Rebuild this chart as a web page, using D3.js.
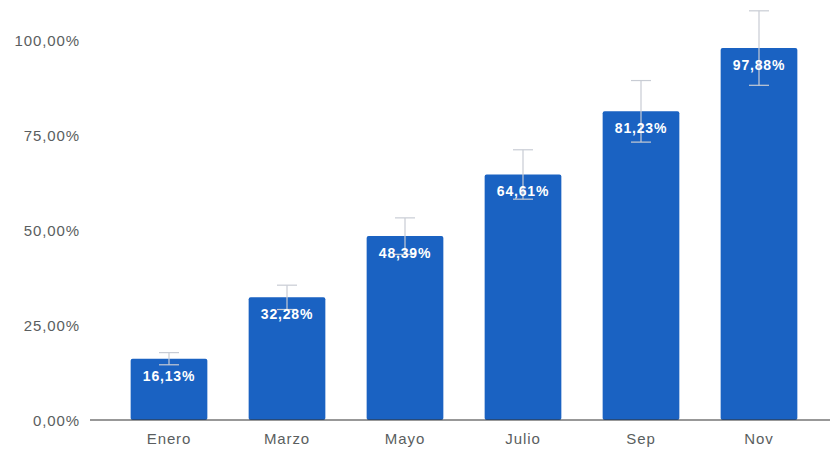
<!DOCTYPE html>
<html><head><meta charset="utf-8">
<script src="https://cdn.jsdelivr.net/npm/d3@7"></script>
<style>body{margin:0;background:#fff}svg{display:block;font-family:"Liberation Sans", Arial, sans-serif}</style>
</head><body><svg id="c" width="830" height="449"></svg>
<script>
const categories = ["Enero","Marzo","Mayo","Julio","Sep","Nov"];
const values = [16.13, 32.28, 48.39, 64.61, 81.23, 97.88];
const errors = [1.6, 3.2, 4.8, 6.5, 8.1, 9.8];
const yTicks = [0, 25, 50, 75, 100];

const svg = d3.select("#c");
const fmt = v => d3.format(".2f")(v).replace(".", ",") + "%";
const x = d3.scaleBand().domain(categories).range([110, 818]).paddingInner(0.35).paddingOuter(0.175);
const y = d3.scaleLinear().domain([0, 100]).range([420, 40]);

const yAxis = svg.append("g").attr("transform", "translate(80,0)")
  .call(d3.axisLeft(y).tickValues(yTicks).tickSize(0).tickPadding(0).tickFormat(fmt));
yAxis.select(".domain").remove();
yAxis.selectAll("text").attr("font-size", 15).attr("letter-spacing", 0.9)
  .attr("fill", "#5a5e60").attr("dy", "0.35em");

svg.selectAll("rect.bar").data(values).join("rect")
  .attr("class", "bar")
  .attr("x", (d, i) => x(categories[i]))
  .attr("width", x.bandwidth())
  .attr("y", d => y(d))
  .attr("height", d => y(0) - y(d))
  .attr("rx", 2)
  .attr("fill", "#1a62c2");

const eb = svg.append("g").attr("stroke", "#c8ccd4").attr("stroke-width", 1.2);
values.forEach((v, i) => {
  const cx = x(categories[i]) + x.bandwidth() / 2;
  eb.append("line").attr("x1", cx).attr("x2", cx).attr("y1", y(v + errors[i])).attr("y2", y(v - errors[i]));
  eb.append("line").attr("x1", cx - 10).attr("x2", cx + 10).attr("y1", y(v + errors[i])).attr("y2", y(v + errors[i]));
  eb.append("line").attr("x1", cx - 10).attr("x2", cx + 10).attr("y1", y(v - errors[i])).attr("y2", y(v - errors[i]));
});

svg.append("line").attr("x1", 90).attr("x2", 830).attr("y1", y(0)).attr("y2", y(0))
  .attr("stroke", "#333").attr("stroke-width", 1.2);

svg.selectAll("text.lbl").data(values).join("text")
  .attr("class", "lbl")
  .attr("x", (d, i) => x(categories[i]) + x.bandwidth() / 2)
  .attr("y", d => y(d) + 22)
  .attr("text-anchor", "middle")
  .attr("font-size", 14).attr("font-weight", "bold").attr("letter-spacing", 0.8).attr("fill", "#fff")
  .text(d => fmt(d));

const xAxis = svg.append("g").attr("transform", "translate(0,420)")
  .call(d3.axisBottom(x).tickSize(0).tickPadding(0));
xAxis.select(".domain").remove();
xAxis.selectAll("text").attr("font-size", 15).attr("letter-spacing", 0.9)
  .attr("fill", "#5a5e60").attr("dy", null).attr("y", 24);
</script></body></html>
